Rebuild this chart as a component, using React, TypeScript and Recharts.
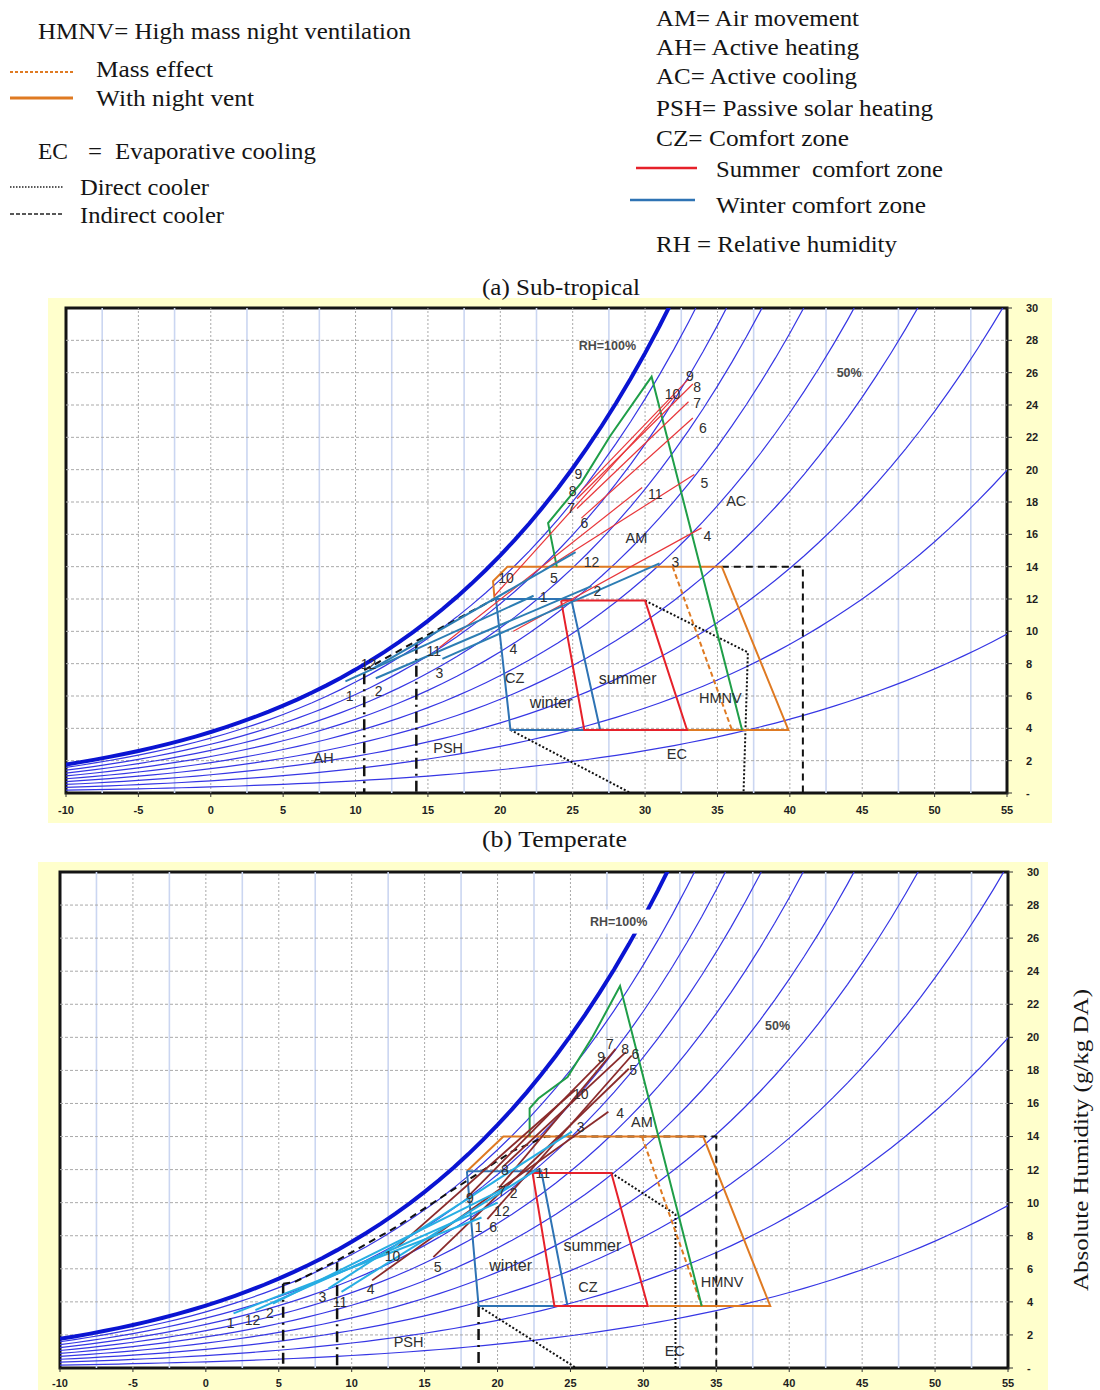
import React from 'react';
import { LineChart, Line, XAxis, YAxis, ReferenceDot, ReferenceArea } from 'recharts';

type Pt = [number, number];

// ---------- psychrometric base data ----------
const TEMPS = [-10,-9,-8,-7,-6,-5,-4,-3,-2,-1,0,1,2,3,4,5,6,7,8,9,10,11,12,13,14,15,16,17,18,19,20,21,22,23,24,25,26,27,28,29,30,31,32,33,34,35,36,37,38,39,40,41,42,43,44,45,46,47,48,49,50,51,52,53,54,55];
// saturation vapour pressure over water, kPa (steam table)
const SAT_VP_KPA = [0.2865,0.3101,0.3354,0.3624,0.3913,0.4222,0.4552,0.4904,0.5280,0.5681,0.6112,0.6571,0.7060,0.7581,0.8135,0.8726,0.9354,1.0021,1.0730,1.1482,1.2282,1.3129,1.4028,1.4981,1.5989,1.7057,1.8187,1.9383,2.0647,2.1982,2.3392,2.4881,2.6452,2.8109,2.9856,3.1697,3.3637,3.5679,3.7828,4.0089,4.2467,4.4966,4.7592,5.0351,5.3247,5.6286,5.9475,6.2818,6.6324,6.9997,7.3844,7.7873,8.2090,8.6503,9.1118,9.5944,10.099,10.626,11.177,11.752,12.352,12.978,13.631,14.312,15.022,15.761];
const RH_LEVELS = [90, 80, 70, 60, 50, 40, 30, 20, 10];
const RH_SATURATION = 100;
const ATM_KPA = 101.325;

const X_TICKS = [-10,-5,0,5,10,15,20,25,30,35,40,45,50,55];
const Y_TICKS = [0,2,4,6,8,10,12,14,16,18,20,22,24,26,28,30];
const GRID_X_MAJOR = [-5,0,5,10,15,20,25,30,35,40,45,50];
const GRID_X_MINOR = [-7.5,-2.5,2.5,7.5,12.5,17.5,22.5,27.5,32.5,37.5,42.5,47.5,52.5];
const GRID_Y = [2,4,6,8,10,12,14,16,18,20,22,24,26,28];

// ---------- (a) Sub-tropical ----------
const A_WINTER_CZ: Pt[] = [[19.7,12],[24.9,12],[26.9,3.9],[20.7,3.9],[19.7,12]];
const A_SUMMER_CZ: Pt[] = [[24.2,11.9],[30,11.9],[32.9,3.9],[25.8,3.9],[24.2,11.9]];
const A_NIGHT_VENT: Pt[] = [[19.6,12],[19.5,13.1],[20.5,14],[35.3,14],[39.9,3.9],[32.9,3.9]];
const A_MASS_EFFECT: Pt[] = [[31.9,14],[36.0,3.9]];
const A_AIR_MOVEMENT: Pt[] = [[23.9,14],[23.3,16.7],[25.6,19.2],[27.6,22.1],[30.45,25.75],[36.7,3.9]];
const A_INDIRECT: Pt[][] = [[[10.6,7.6],[12.4,8.5],[14.2,9.4],[19.6,12.0]],[[35.3,14],[40.9,14],[40.9,0]]];
const A_DIRECT: Pt[][] = [[[30,11.9],[37.1,8.7],[36.8,0]],[[20.7,3.9],[29,0]]];
const A_DASHDOT: Pt[][] = [[[10.6,7.4],[10.6,0]],[[14.2,9.3],[14.2,0]]];
const A_COOL_MONTHS = [
  { m: 12, from: [11.0,7.6], to: [25.2,14.9] },
  { m: 1, from: [9.3,6.9], to: [22.3,12.2] },
  { m: 2, from: [11.4,7.1], to: [26.3,12.8] },
  { m: 3, from: [16.0,8.3], to: [31.0,14.2] },
];
const A_WARM_MONTHS = [
  { m: 4, from: [20.9,10.0], to: [33.9,16.4] },
  { m: 5, from: [23.0,13.8], to: [33.4,19.7] },
  { m: 6, from: [25.6,17.0], to: [33.3,23.2] },
  { m: 7, from: [25.3,17.6], to: [33.0,24.2] },
  { m: 8, from: [25.3,18.2], to: [33.3,25.3] },
  { m: 9, from: [25.6,18.7], to: [33.0,25.6] },
  { m: 10, from: [19.6,12.2], to: [32.1,24.6] },
  { m: 11, from: [15.8,9.0], to: [29.8,18.9] },
];
const A_MONTH_LABELS = [
  { t: '9', x: 33.1, y: 25.8 }, { t: '8', x: 33.6, y: 25.1 }, { t: '10', x: 31.9, y: 24.7 },
  { t: '7', x: 33.6, y: 24.1 }, { t: '6', x: 34.0, y: 22.6 }, { t: '5', x: 34.1, y: 19.2 },
  { t: '11', x: 30.7, y: 18.5 }, { t: '4', x: 34.3, y: 15.9 }, { t: '12', x: 26.3, y: 14.3 },
  { t: '3', x: 32.1, y: 14.3 }, { t: '2', x: 26.7, y: 12.5 }, { t: '1', x: 23.0, y: 12.1 },
  { t: '9', x: 25.4, y: 19.7 }, { t: '8', x: 25.0, y: 18.65 }, { t: '7', x: 24.9, y: 17.6 },
  { t: '6', x: 25.8, y: 16.7 }, { t: '5', x: 23.7, y: 13.3 }, { t: '10', x: 20.4, y: 13.3 },
  { t: '4', x: 20.9, y: 8.9 }, { t: '11', x: 15.4, y: 8.8 }, { t: '3', x: 15.8, y: 7.4 },
  { t: '12', x: 10.9, y: 8.0 }, { t: '2', x: 11.6, y: 6.3 }, { t: '1', x: 9.6, y: 6.0 },
];
const A_ZONE_LABELS = [
  { t: 'AC', x: 36.3, y: 18.1 }, { t: 'AM', x: 29.4, y: 15.8 }, { t: 'CZ', x: 21.0, y: 7.1 },
  { t: 'HMNV', x: 35.2, y: 5.9 }, { t: 'EC', x: 32.2, y: 2.4 }, { t: 'PSH', x: 16.4, y: 2.8 },
  { t: 'AH', x: 7.8, y: 2.2 },
];
const A_SEASON_LABELS = [{ t: 'summer', x: 28.8, y: 7.1 }, { t: 'winter', x: 23.5, y: 5.6 }];
const A_RH_LABELS = [{ t: 'RH=100%', x: 27.4, y: 27.7 }, { t: '50%', x: 44.1, y: 26.0 }];

// ---------- (b) Temperate ----------
const B_WINTER_CZ: Pt[] = [[17.9,11.9],[23.0,11.9],[24.8,3.75],[18.7,3.75],[17.9,11.9]];
const B_SUMMER_CZ: Pt[] = [[22.4,11.8],[27.8,11.8],[30.3,3.75],[23.9,3.75],[22.4,11.8]];
const B_NIGHT_VENT: Pt[] = [[17.9,11.9],[20.4,14],[34.1,14],[38.7,3.75],[30.4,3.75]];
const B_MASS_EFFECT: Pt[] = [[29.9,14],[34.0,3.75]];
const B_AIR_MOVEMENT: Pt[] = [[22.2,14.0],[22.2,15.7],[22.8,16.3],[24.8,17.6],[26.5,20.0],[28.4,23.1],[34.0,3.75]];
const B_INDIRECT: Pt[][] = [[[5.3,5.1],[6.1,5.2],[9.0,6.5],[13.0,8.5],[17.5,11.1],[21.0,13.1],[23.3,14.0],[35.0,14.0],[35.0,0]]];
const B_DIRECT: Pt[][] = [[[27.8,11.8],[32.2,9.3],[32.2,0]],[[18.7,3.75],[25.4,0]]];
const B_DASHDOT: Pt[][] = [[[5.3,5.1],[5.3,0]],[[9.0,6.4],[9.0,0]],[[18.7,3.75],[18.7,0]]];
const B_COOL_MONTHS = [
  { m: 1, from: [1.9,3.3], to: [18.9,9.1] },
  { m: 12, from: [3.4,3.5], to: [20.0,10.0] },
  { m: 2, from: [4.6,3.9], to: [20.8,11.0] },
  { m: 3, from: [8.4,4.8], to: [25.1,14.3] },
  { m: 11, from: [9.3,4.6], to: [22.7,12.0] },
];
const B_WARM_MONTHS = [
  { m: 4, from: [11.4,5.3], to: [27.6,15.5] },
  { m: 5, from: [15.6,6.7], to: [29.0,18.1] },
  { m: 6, from: [19.3,9.0], to: [29.2,18.9] },
  { m: 7, from: [20.1,10.9], to: [28.1,19.3] },
  { m: 8, from: [20.4,12.2], to: [28.8,19.1] },
  { m: 9, from: [17.9,10.3], to: [27.4,18.8] },
  { m: 10, from: [13.1,7.3], to: [25.3,16.8] },
];
const B_MONTH_LABELS = [
  { t: '7', x: 27.7, y: 19.6 }, { t: '9', x: 27.1, y: 18.8 }, { t: '8', x: 28.75, y: 19.3 },
  { t: '6', x: 29.45, y: 19.0 }, { t: '5', x: 29.3, y: 18.0 }, { t: '10', x: 25.7, y: 16.6 },
  { t: '4', x: 28.4, y: 15.4 }, { t: '3', x: 25.7, y: 14.6 }, { t: '11', x: 23.1, y: 11.8 },
  { t: '2', x: 21.1, y: 10.6 }, { t: '12', x: 20.3, y: 9.5 }, { t: '1', x: 18.7, y: 8.5 },
  { t: '8', x: 20.5, y: 12.0 }, { t: '9', x: 18.1, y: 10.3 }, { t: '7', x: 20.3, y: 10.7 },
  { t: '6', x: 19.7, y: 8.5 }, { t: '5', x: 15.9, y: 6.1 }, { t: '10', x: 12.8, y: 6.8 },
  { t: '4', x: 11.3, y: 4.8 }, { t: '3', x: 8.0, y: 4.3 }, { t: '11', x: 9.2, y: 4.0 },
  { t: '2', x: 4.4, y: 3.3 }, { t: '12', x: 3.2, y: 2.9 }, { t: '1', x: 1.7, y: 2.7 },
];
const B_ZONE_LABELS = [
  { t: 'AM', x: 29.9, y: 14.9 }, { t: 'CZ', x: 26.2, y: 4.9 }, { t: 'HMNV', x: 35.4, y: 5.2 },
  { t: 'EC', x: 32.15, y: 1.05 }, { t: 'PSH', x: 13.9, y: 1.6 },
];
const B_SEASON_LABELS = [{ t: 'summer', x: 26.5, y: 7.4 }, { t: 'winter', x: 20.9, y: 6.2 }];
const B_RH_LABELS = [{ t: 'RH=100%', x: 28.3, y: 27.0 }, { t: '50%', x: 39.2, y: 20.7 }];

// ---------- header texts ----------
const HEADER_TEXTS = [
  { t: 'HMNV= High mass night ventilation', x: 38, y: 39, w: 373 },
  { t: 'Mass effect', x: 96, y: 77, w: 117 },
  { t: 'With night vent', x: 96, y: 106, w: 158 },
  { t: 'EC', x: 38, y: 159, w: 30 },
  { t: '=', x: 88, y: 159, w: 14 },
  { t: 'Evaporative cooling', x: 115, y: 159, w: 201 },
  { t: 'Direct cooler', x: 80, y: 195, w: 129 },
  { t: 'Indirect cooler', x: 80, y: 223, w: 144 },
  { t: 'AM= Air movement', x: 656, y: 26, w: 203 },
  { t: 'AH= Active heating', x: 656, y: 55, w: 203 },
  { t: 'AC= Active cooling', x: 656, y: 84, w: 201 },
  { t: 'PSH= Passive solar heating', x: 656, y: 116, w: 277 },
  { t: 'CZ= Comfort zone', x: 656, y: 146, w: 193 },
  { t: 'Summer  comfort zone', x: 716, y: 177, w: 227 },
  { t: 'Winter comfort zone', x: 716, y: 213, w: 210 },
  { t: 'RH = Relative humidity', x: 656, y: 252, w: 241 },
  { t: '(a) Sub-tropical', x: 482, y: 295, w: 158 },
  { t: '(b) Temperate', x: 482, y: 847, w: 145 },
];

const C = {
  rhThin: '#3636e4', rhThick: '#0a14d2', gridMinor: '#cbd6f1', gridMajor: '#a9a9a9',
  winter: '#2e73b4', summer: '#e6212a', orange: '#df7a22', green: '#1f9e48',
  black: '#111', tealMonth: '#2c7db3', redMonth: '#e8363a', cyanMonth: '#27aee3', brownMonth: '#8a2b2b',
  text: '#2e2e2e', yellow: '#ffffcc',
};

const toPts = (arr: Pt[] | number[][]) => arr.map(([x, y]) => ({ x, y }));

function rhCurve(level: number) {
  return TEMPS.map((t, i) => {
    const pv = (level / 100) * SAT_VP_KPA[i];
    return { x: t, y: (622 * pv) / (ATM_KPA - pv) };
  });
}

type Lbl = { t: string; x: number; y: number };
interface Spec {
  winterCZ: Pt[]; summerCZ: Pt[]; nightVent: Pt[]; massEffect: Pt[]; airMovement: Pt[];
  indirect: Pt[][]; direct: Pt[][]; dashDot: Pt[][];
  coolMonths: { m: number; from: number[]; to: number[] }[];
  warmMonths: { m: number; from: number[]; to: number[] }[];
  coolColor: string; warmColor: string; coolWidth: number; warmWidth: number;
  monthLabels: Lbl[]; zoneLabels: Lbl[]; seasonLabels: Lbl[]; rhLabels: Lbl[]; rhLabelBox: boolean;
}

const SPEC_A: Spec = {
  winterCZ: A_WINTER_CZ, summerCZ: A_SUMMER_CZ, nightVent: A_NIGHT_VENT, massEffect: A_MASS_EFFECT,
  airMovement: A_AIR_MOVEMENT, indirect: A_INDIRECT, direct: A_DIRECT, dashDot: A_DASHDOT,
  coolMonths: A_COOL_MONTHS, warmMonths: A_WARM_MONTHS, coolColor: C.tealMonth, warmColor: C.redMonth,
  coolWidth: 2, warmWidth: 1.2,
  monthLabels: A_MONTH_LABELS, zoneLabels: A_ZONE_LABELS, seasonLabels: A_SEASON_LABELS,
  rhLabels: A_RH_LABELS, rhLabelBox: false,
};
const SPEC_B: Spec = {
  winterCZ: B_WINTER_CZ, summerCZ: B_SUMMER_CZ, nightVent: B_NIGHT_VENT, massEffect: B_MASS_EFFECT,
  airMovement: B_AIR_MOVEMENT, indirect: B_INDIRECT, direct: B_DIRECT, dashDot: B_DASHDOT,
  coolMonths: B_COOL_MONTHS, warmMonths: B_WARM_MONTHS, coolColor: C.cyanMonth, warmColor: C.brownMonth,
  coolWidth: 2, warmWidth: 1.8,
  monthLabels: B_MONTH_LABELS, zoneLabels: B_ZONE_LABELS, seasonLabels: B_SEASON_LABELS,
  rhLabels: B_RH_LABELS, rhLabelBox: true,
};

const SANS = 'Liberation Sans, Arial, sans-serif';

function PsychroChart(props: {
  spec: Spec; width: number; height: number; mLeft: number; mTop: number;
  yAxisWidth: number; xAxisHeight: number; xTickMargin: number;
}) {
  const { spec, width, height, mLeft, mTop, yAxisWidth, xAxisHeight, xTickMargin } = props;
  const lines: React.ReactElement[] = [];
  let k = 0;
  const add = (data: { x: number; y: number }[], p: Record<string, unknown>) => {
    lines.push(
      <Line key={'l' + k++} data={data} dataKey="y" type="linear" dot={false} activeDot={false}
        isAnimationActive={false} legendType="none" {...p} />
    );
  };
  GRID_X_MINOR.forEach((v) => add(toPts([[v, 0], [v, 30]]), { stroke: C.gridMinor, strokeWidth: 1.6 }));
  GRID_X_MAJOR.forEach((v) => add(toPts([[v, 0], [v, 30]]), { stroke: C.gridMajor, strokeWidth: 1, strokeDasharray: '2 2' }));
  GRID_Y.forEach((v) => add(toPts([[-10, v], [55, v]]), { stroke: C.gridMajor, strokeWidth: 1, strokeDasharray: '3 2' }));
  RH_LEVELS.forEach((lv) => add(rhCurve(lv), { stroke: C.rhThin, strokeWidth: 1.2 }));
  add(rhCurve(RH_SATURATION), { stroke: C.rhThick, strokeWidth: 4 });

  spec.dashDot.forEach((d) => add(toPts(d), { stroke: C.black, strokeWidth: 2.5, strokeDasharray: '11 5 2 5' }));
  spec.indirect.forEach((d) => add(toPts(d), { stroke: C.black, strokeWidth: 2, strokeDasharray: '7 5' }));
  spec.direct.forEach((d) => add(toPts(d), { stroke: C.black, strokeWidth: 2, strokeDasharray: '2 2' }));
  add(toPts(spec.nightVent), { stroke: C.orange, strokeWidth: 2 });
  add(toPts(spec.massEffect), { stroke: C.orange, strokeWidth: 2, strokeDasharray: '5 3' });
  add(toPts(spec.airMovement), { stroke: C.green, strokeWidth: 2 });
  add(toPts(spec.winterCZ), { stroke: C.winter, strokeWidth: 2 });
  add(toPts(spec.summerCZ), { stroke: C.summer, strokeWidth: 2 });
  spec.warmMonths.forEach((mo) => add(toPts([mo.from, mo.to]), { stroke: spec.warmColor, strokeWidth: spec.warmWidth }));
  spec.coolMonths.forEach((mo) => add(toPts([mo.from, mo.to]), { stroke: spec.coolColor, strokeWidth: spec.coolWidth }));

  const tickStyle = { fontSize: 11, fontWeight: 700, fill: '#1e1e1e', fontFamily: SANS };
  const label = (l: Lbl, size: number, key: string, extra: Record<string, unknown> = {}) => (
    <ReferenceDot key={key} x={l.x} y={l.y} r={0} fill="none" stroke="none" ifOverflow="visible"
      label={{ value: l.t, position: 'center', fill: C.text, fontSize: size, fontFamily: SANS, ...extra }} />
  );
  const boxDot = (l: Lbl, key: string) => (
    <ReferenceDot key={key} x={l.x} y={l.y} r={1} ifOverflow="visible"
      shape={(p: { cx?: number; cy?: number }) => (
        <rect x={(p.cx ?? 0) - 37} y={(p.cy ?? 0) - 12} width={74} height={24} fill="#fff" />
      )} />
  );

  return (
    <LineChart width={width} height={height} margin={{ top: mTop, left: mLeft, right: 0, bottom: 0 }}>
      <XAxis type="number" dataKey="x" domain={[-10, 55]} ticks={X_TICKS} interval={0} allowDataOverflow
        axisLine={false} tickLine={{ stroke: '#333' }} tickSize={4} tickMargin={xTickMargin}
        height={xAxisHeight} tick={tickStyle} />
      <YAxis type="number" orientation="right" domain={[0, 30]} ticks={Y_TICKS} interval={0} allowDataOverflow
        axisLine={false} tickLine={{ stroke: '#333' }} tickSize={5} tickMargin={14} width={yAxisWidth}
        tick={tickStyle} tickFormatter={(v: number) => (v === 0 ? '-' : String(v))} />
      {lines}
      <ReferenceArea x1={-10} x2={55} y1={0} y2={30} fill="none" fillOpacity={0} stroke="#141414" strokeWidth={3} ifOverflow="visible" />
      {spec.rhLabelBox ? boxDot(spec.rhLabels[0], 'box') : null}
      {spec.rhLabels.map((l, i) => label(l, 12.5, 'r' + i, { fill: '#4a4a4a', fontWeight: 700 }))}
      {spec.zoneLabels.map((l, i) => label(l, 14.5, 'z' + i))}
      {spec.seasonLabels.map((l, i) => label(l, 16, 's' + i))}
      {spec.monthLabels.map((l, i) => label(l, 14, 'm' + i))}
    </LineChart>
  );
}

export default function App() {
  const serif = 'Liberation Serif, Times New Roman, serif';
  return (
    <div style={{ position: 'absolute', left: 0, top: 0, width: 1100, height: 1390, background: '#fff', overflow: 'hidden' }}>
      <svg width={1100} height={1390} style={{ position: 'absolute', left: 0, top: 0 }}>
        <rect x={48} y={298} width={1004} height={525} fill={C.yellow} />
        <rect x={38} y={862} width={1010} height={528} fill={C.yellow} />
        <rect x={66} y={308} width={941} height={485} fill="#fff" />
        <rect x={60} y={872} width={948} height={496} fill="#fff" />
        {HEADER_TEXTS.map((h, i) => (
          <text key={i} x={h.x} y={h.y} fontFamily={serif} fontSize={24} fill="#151515"
            textLength={h.w} lengthAdjust="spacingAndGlyphs" style={{ whiteSpace: 'pre' }}>{h.t}</text>
        ))}
        <line x1={10} y1={72} x2={75} y2={72} stroke={C.orange} strokeWidth={2} strokeDasharray="3 2" />
        <line x1={10} y1={98} x2={73} y2={98} stroke={C.orange} strokeWidth={3} />
        <line x1={10} y1={187} x2={63} y2={187} stroke="#222" strokeWidth={1.5} strokeDasharray="1.5 1.5" />
        <line x1={10} y1={214} x2={62} y2={214} stroke="#222" strokeWidth={1.5} strokeDasharray="4 2" />
        <line x1={636} y1={168} x2={697} y2={168} stroke={C.summer} strokeWidth={2.5} />
        <line x1={630} y1={200} x2={695} y2={200} stroke={C.winter} strokeWidth={2.5} />
        <text x={1080} y={1140} transform="rotate(-90 1080 1140)" textAnchor="middle" dominantBaseline="central"
          fontFamily={serif} fontSize={22} fill="#151515" textLength={302} lengthAdjust="spacingAndGlyphs">
          Absolute Humidity (g/kg DA)
        </text>
      </svg>
      <div style={{ position: 'absolute', left: 48, top: 298 }}>
        <PsychroChart spec={SPEC_A} width={1004} height={525} mLeft={18} mTop={10} yAxisWidth={45} xAxisHeight={30} xTickMargin={9} />
      </div>
      <div style={{ position: 'absolute', left: 38, top: 862 }}>
        <PsychroChart spec={SPEC_B} width={1010} height={528} mLeft={22} mTop={10} yAxisWidth={40} xAxisHeight={22} xTickMargin={7} />
      </div>
    </div>
  );
}
